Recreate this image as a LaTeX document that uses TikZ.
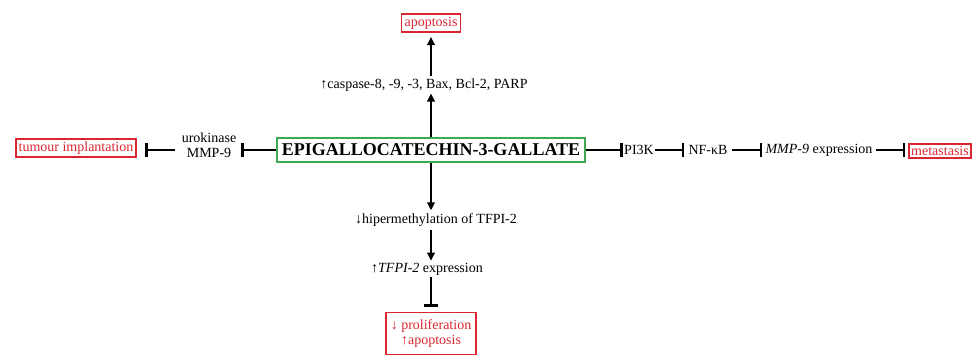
\documentclass[tikz,border=0pt]{standalone}
\usepackage{fontspec}
\setmainfont{Liberation Serif}
\usetikzlibrary{arrows.meta}
\definecolor{boxred}{RGB}{218,38,48}
\definecolor{boxgreen}{RGB}{62,168,82}
\tikzset{
  txt/.style={font=\fontsize{14}{15}\selectfont, inner ysep=2pt, inner xsep=2pt},
  redbox/.style={draw=boxred, line width=1.8pt, text=boxred, font=\fontsize{14}{15}\selectfont, inner xsep=3pt, inner ysep=3pt},
  mainbox/.style={draw=boxgreen, line width=1.8pt, font=\bfseries\fontsize{18}{20}\selectfont, inner xsep=5pt, minimum height=24pt, inner ysep=0pt},
  act/.style={line width=2.2pt, -{Triangle[length=8pt,width=7.5pt]}},
  inh/.style={line width=2.2pt, -{Bar[width=14pt,line width=2.6pt]}},
}
\begin{document}
\begin{tikzpicture}[x=1pt,y=-1pt]
\useasboundingbox (0,0) rectangle (974,356);
\node[mainbox] (egcg) at (431,150) {EPIGALLOCATECHIN-3-GALLATE};
\node[redbox] (apop) at (431,23) {apoptosis};
\node[txt] (casp) at (424,85) {↑caspase-8, -9, -3, Bax, Bcl-2, PARP};
\node[txt] (hyper) at (436,220) {↓hipermethylation of TFPI-2};
\node[txt] (tfpi) at (427,269) {↑\textit{TFPI-2} expression};
\node[redbox, align=center, font=\fontsize{14}{15}\selectfont, inner xsep=5pt, minimum height=42pt] (prolif) at (431,333.5) {↓ proliferation\\↑apoptosis};
\node[redbox] (tumour) at (76,148) {tumour implantation};
\node[txt, align=center, inner xsep=5pt] (uro) at (209,145) {urokinase\\MMP-9};
\node[txt, inner xsep=1pt] (pi3k) at (639,150) {PI3K};
\node[txt, inner xsep=4pt] (nfkb) at (708,150) {NF-κB};
\node[txt, inner xsep=3pt] (mmp) at (819,150) {\textit{MMP-9} expression};
\node[redbox, inner xsep=2pt, inner ysep=2.5pt] (meta) at (940,151) {metastasis};

\draw[act] (egcg.north) -- (egcg.north |- casp.south);
\draw[act, shorten >=4pt] (egcg.north |- casp.north) -- (egcg.north |- apop.south);
\draw[act, shorten >=1pt] (egcg.south) -- (egcg.south |- hyper.north);
\draw[act, shorten <=1pt] (egcg.south |- hyper.south) -- (egcg.south |- tfpi.north);
\draw[inh, shorten >=5pt] (egcg.south |- tfpi.south) -- (egcg.south |- prolif.north);
\draw[inh] (egcg.west) -- (egcg.west -| uro.east);
\draw[inh, shorten >=8pt, shorten <=2pt] (uro.west |- egcg.west) -- (egcg.west -| tumour.east);
\draw[inh] (egcg.east) -- (egcg.east -| pi3k.west);
\draw[inh] (pi3k.east) -- (pi3k.east -| nfkb.west);
\draw[inh] (nfkb.east) -- (nfkb.east -| mmp.west);
\draw[inh, shorten >=3pt] (mmp.east) -- (mmp.east -| meta.west);
\end{tikzpicture}
\end{document}
